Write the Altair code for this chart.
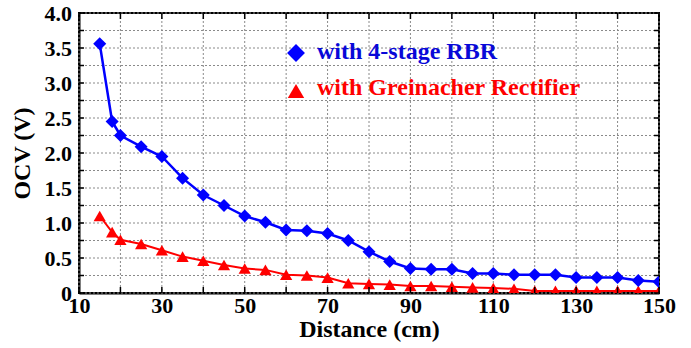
import altair as alt
import pandas as pd

# ---- data ----
distance = [15, 18, 20, 25, 30, 35, 40, 45, 50, 55, 60, 65, 70, 75, 80, 85, 90,
            95, 100, 105, 110, 115, 120, 125, 130, 135, 140, 145, 150]
rbr = [3.56, 2.45, 2.25, 2.09, 1.95, 1.64, 1.40, 1.25, 1.10, 1.01, 0.90, 0.89,
       0.85, 0.75, 0.59, 0.45, 0.35, 0.34, 0.34, 0.28, 0.28, 0.26, 0.26, 0.26,
       0.22, 0.22, 0.22, 0.18, 0.16]
greinacher = [1.10, 0.87, 0.76, 0.70, 0.61, 0.52, 0.46, 0.40, 0.35, 0.33, 0.26,
              0.25, 0.22, 0.14, 0.13, 0.12, 0.10, 0.10, 0.09, 0.08, 0.07, 0.06,
              0.03, 0.03, 0.03, 0.03, 0.03, 0.03, 0.03]
series_names = ["with 4-stage RBR", "with Greinacher Rectifier"]
x_labels = [10, 30, 50, 70, 90, 110, 130, 150]
y_labels = [0, 0.5, 1.0, 1.5, 2.0, 2.5, 3.0, 3.5, 4.0]
y_label_text = ["0", "0.5", "1.0", "1.5", "2.0", "2.5", "3.0", "3.5", "4.0"]
x_ticks = [10, 20, 30, 40, 50, 60, 70, 80, 90, 100, 110, 120, 130, 140, 150]
y_ticks = [0, 0.25, 0.5, 0.75, 1.0, 1.25, 1.5, 1.75, 2.0, 2.25, 2.5, 2.75,
           3.0, 3.25, 3.5, 3.75, 4.0]

BLUE = "#0000FF"
BLUE_TXT = "#0808D8"
RED = "#FF0000"
FONT = "'Liberation Serif', 'Times New Roman', Times, serif"
W, H = 580, 280

df = pd.DataFrame({"distance": distance, "rbr": rbr, "gr": greinacher})
xt = pd.DataFrame({"t": x_ticks})
yt = pd.DataFrame({"v": y_ticks})
yl = pd.DataFrame({"v": y_labels, "txt": y_label_text})

xscale = alt.Scale(domain=[10, 150], nice=False, zero=False)
yscale = alt.Scale(domain=[0, 4], nice=False, zero=False)

xaxis = alt.Axis(
    values=x_labels, grid=False,
    tickSize=0, labelPadding=2, titlePadding=1,
    labelOverlap=False, labelFlush=False, labelBound=False,
)
yaxis = alt.Axis(
    values=y_labels, grid=False, labels=False,
    tickSize=0, titlePadding=44,
)

XT = "Distance (cm)"
YT = "OCV (V)"
X = alt.X("distance:Q", scale=xscale, axis=xaxis, title=XT)

# dotted grid
tx = alt.X("t:Q", title=XT)
ty = alt.Y("v:Q", title=YT)
grid_x = alt.Chart(xt).mark_rule(color="#8a8a8a", strokeWidth=1, strokeDash=[2, 2]).encode(x=tx)
grid_y = alt.Chart(yt).mark_rule(color="#8a8a8a", strokeWidth=1, strokeDash=[2, 2]).encode(y=ty)

base = alt.Chart(df)
blue_line = base.mark_line(color=BLUE, strokeWidth=2.5, clip=True).encode(
    x=X, y=alt.Y("rbr:Q", scale=yscale, axis=yaxis, title=YT))
blue_pts = base.mark_point(shape="diamond", filled=True, size=170, color=BLUE,
                           opacity=1, clip=True).encode(
    x=X, y=alt.Y("rbr:Q", title=YT))
red_line = base.mark_line(color=RED, strokeWidth=2, clip=True).encode(
    x=X, y=alt.Y("gr:Q", title=YT))
red_pts = base.mark_point(shape="triangle-up", filled=True, size=150, color=RED,
                          opacity=1, clip=True).encode(
    x=X, y=alt.Y("gr:Q", title=YT))

# y tick labels
y_lab = alt.Chart(yl).mark_text(align="right", baseline="middle", font=FONT,
                                fontSize=22, fontWeight="bold", color="black", dy=1).encode(
    y=alt.Y("v:Q", title=YT), x=alt.value(-7), text="txt:N")

# inward ticks on all four sides
bottom_ticks = alt.Chart(xt).mark_rule(color="black", strokeWidth=1.5).encode(
    x=tx, y=alt.value(H), y2=alt.value(H - 6))
top_ticks = alt.Chart(xt).mark_rule(color="black", strokeWidth=1.5).encode(
    x=tx, y=alt.value(0), y2=alt.value(6))
left_ticks = alt.Chart(yt).mark_rule(color="black", strokeWidth=1.5).encode(
    y=ty, x=alt.value(0), x2=alt.value(5))
right_ticks = alt.Chart(yt).mark_rule(color="black", strokeWidth=1.5).encode(
    y=ty, x=alt.value(W), x2=alt.value(W - 5))

# legend
leg1 = alt.Data(values=[{"label": series_names[0]}])
leg2 = alt.Data(values=[{"label": series_names[1]}])
leg_d = alt.Chart(leg1).mark_point(shape="diamond", filled=True, size=320,
                                   color=BLUE, opacity=1).encode(
    x=alt.value(217), y=alt.value(40))
leg_dt = alt.Chart(leg1).mark_text(align="left", baseline="alphabetic", font=FONT,
                                   fontSize=24, fontWeight="bold", color=BLUE_TXT).encode(
    x=alt.value(238), y=alt.value(46), text="label:N")
leg_t = alt.Chart(leg2).mark_point(shape="triangle-up", filled=True, size=270,
                                   color=RED, opacity=1).encode(
    x=alt.value(217), y=alt.value(78))
leg_tt = alt.Chart(leg2).mark_text(align="left", baseline="alphabetic", font=FONT,
                                   fontSize=24, fontWeight="bold", color=RED).encode(
    x=alt.value(238), y=alt.value(82), text="label:N")

chart = alt.layer(
    grid_x, grid_y,
    blue_line, red_line, red_pts, blue_pts,
    bottom_ticks, top_ticks, left_ticks, right_ticks,
    y_lab,
    leg_d, leg_dt, leg_t, leg_tt,
).properties(
    width=W, height=H,
    autosize=alt.AutoSizeParams(type="none"),
    padding={"left": 79, "top": 13, "right": 32, "bottom": 55},
    background="white",
).configure_view(
    stroke="black", strokeWidth=2,
).configure_axis(
    labelFont=FONT, labelFontSize=22, labelFontWeight="bold", labelColor="black",
    titleFont=FONT, titleFontSize=24, titleFontWeight="bold", titleColor="black",
    domainColor="black", domainWidth=2,
)

chart.save("out.html", embed_options={"renderer": "svg", "actions": False})
